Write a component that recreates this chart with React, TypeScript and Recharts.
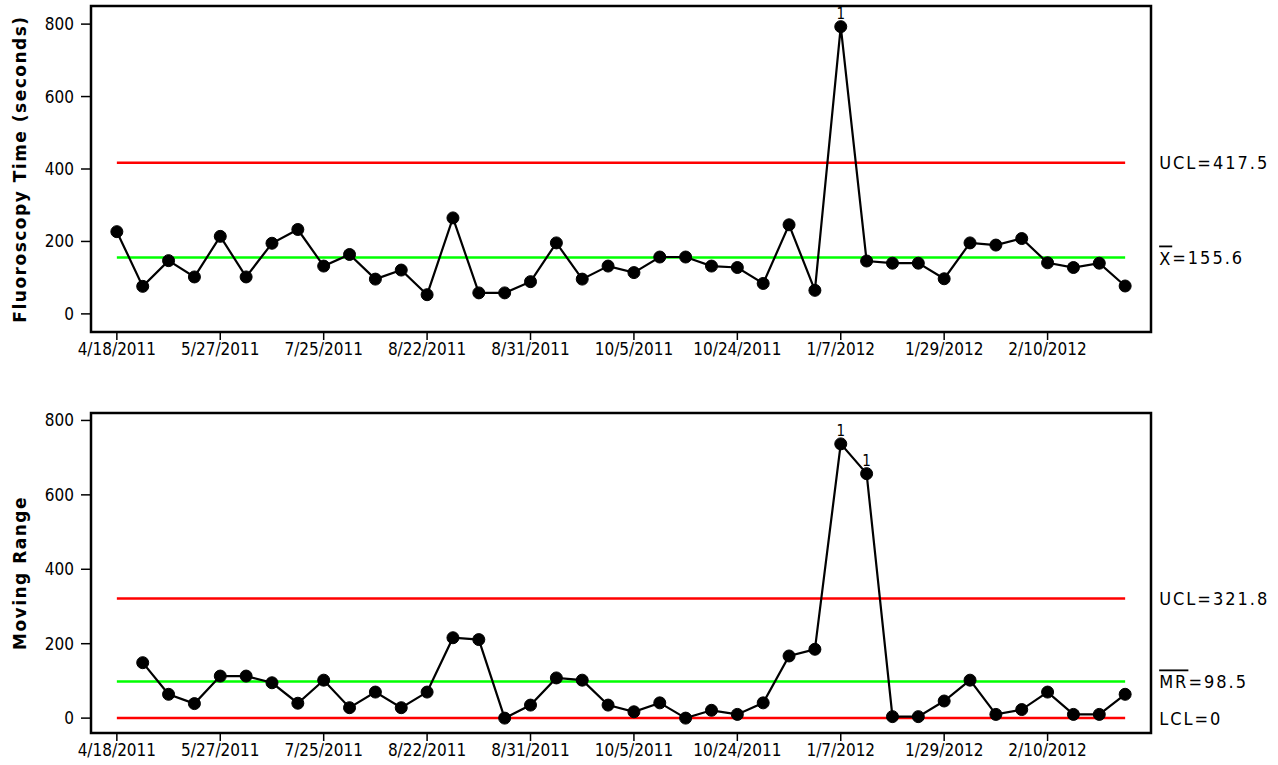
import { LineChart, Line, XAxis, YAxis, ReferenceLine, ReferenceArea, LabelList } from "recharts";

const FONT = "'DejaVu Sans Condensed', 'DejaVu Sans', sans-serif";
const TITLE_FONT = "'DejaVu Sans', Verdana, sans-serif";
const RED = "#ff0000";
const GREEN = "#00ff00";

// x axis: one observation per index, a date label every 4th
const TICK_IDX = [0, 4, 8, 12, 16, 20, 24, 28, 32, 36];
const TICK_DATES = [
  "4/18/2011", "5/27/2011", "7/25/2011", "8/22/2011", "8/31/2011",
  "10/5/2011", "10/24/2011", "1/7/2012", "1/29/2012", "2/10/2012",
];

// individual fluoroscopy times (seconds)
const FLUORO = [
  227, 76, 147, 102, 214, 102, 195, 233, 132, 164,
  96, 121, 53, 265, 58, 58, 89, 196, 96, 132,
  114, 157, 157, 132, 128, 84, 246, 65, 793, 146,
  140, 140, 97, 196, 190, 208, 141, 128, 140, 77,
];

// moving ranges (first observation has none)
const MOVING_RANGE = [
  null, 149, 64, 39, 113, 113, 95, 40, 102, 28,
  70, 28, 70, 216, 211, 0, 35, 108, 102, 35,
  17, 41, 0, 21, 10, 41, 167, 185, 737, 657,
  4, 4, 46, 102, 10, 23, 70, 10, 10, 64,
];

const FLUORO_FLAGS = [28];
const MR_FLAGS = [28, 29];

const I_UCL = 417.5;
const I_CL = 155.6;
const MR_UCL = 321.8;
const MR_CL = 98.5;
const MR_LCL = 0;

const Y_TICKS = [0, 200, 400, 600, 800];

const fmtDate = (v: number) => {
  const k = TICK_IDX.indexOf(v);
  return k >= 0 ? TICK_DATES[k] : "";
};

function AxisTitle({ viewBox, value }: any) {
  const cy = viewBox.y + viewBox.height / 2;
  const x = 20;
  return (
    <text
      x={x}
      y={cy}
      transform={`rotate(-90 ${x} ${cy})`}
      textAnchor="middle"
      dominantBaseline="central"
      fontFamily={TITLE_FONT}
      fontWeight="bold"
      fontSize={17}
      letterSpacing={1.5}
      fill="#000"
    >
      {value}
    </text>
  );
}

// bar: part of the label drawn with an overline (X-bar, MR-bar)
function RightLabel({ viewBox, bar, text }: any) {
  const x = viewBox.x + viewBox.width + 34;
  return (
    <text x={x} y={viewBox.y} dominantBaseline="central" fontFamily={FONT} fontSize={18} letterSpacing={2} fill="#000">
      {bar && <tspan style={{ textDecoration: "overline" }}>{bar}</tspan>}
      {text}
    </text>
  );
}

type Limit = { y: number; color: string; bar?: string; text: string };

function Panel({ values, flags, title, domain, limits, height, top, bottom }: {
  values: (number | null)[]; flags: number[]; title: string; domain: [number, number];
  limits: Limit[]; height: number; top: number; bottom: number;
}) {
  const data = values.map((v, i) => ({ i, v, flag: flags.includes(i) ? "1" : "" }));
  return (
    <LineChart width={1278} height={height} data={data} margin={{ top, right: 127, left: 0, bottom }}>
      <XAxis
        type="number"
        dataKey="i"
        domain={[-1, 40]}
        ticks={TICK_IDX}
        tickFormatter={fmtDate}
        height={30}
        axisLine={false}
        tickLine={{ stroke: "#000", strokeWidth: 1.5 }}
        tickSize={8}
        tickMargin={3}
        tick={{ fill: "#000", fontSize: 17, fontFamily: FONT }}
        interval={0}
      />
      <YAxis
        type="number"
        domain={domain}
        ticks={Y_TICKS}
        width={91}
        axisLine={false}
        tickLine={{ stroke: "#000", strokeWidth: 1.5 }}
        tickSize={10}
        tickMargin={7}
        tick={{ fill: "#000", fontSize: 17, fontFamily: FONT }}
        label={<AxisTitle value={title} />}
      />
      <ReferenceArea x1={-1} x2={40} y1={domain[0]} y2={domain[1]} fill="none" stroke="#000" strokeWidth={2.5} ifOverflow="visible" />
      {limits.map((l) => (
        <ReferenceLine
          key={l.text}
          segment={[{ x: 0, y: l.y }, { x: 39, y: l.y }]}
          stroke={l.color}
          strokeWidth={2.5}
          ifOverflow="visible"
          label={<RightLabel bar={l.bar} text={l.text} />}
        />
      ))}
      <Line
        type="linear"
        dataKey="v"
        stroke="#000"
        strokeWidth={2.2}
        dot={{ r: 6, fill: "#000", stroke: "#000", strokeWidth: 1 }}
        isAnimationActive={false}
      >
        <LabelList dataKey="flag" position="top" offset={8} fontSize={15} fill="#000" stroke="none" fontFamily={FONT} />
      </Line>
    </LineChart>
  );
}

export default function App() {
  return (
    <div style={{ position: "absolute", left: 0, top: 0, width: 1278, height: 765, background: "#fff" }}>
      <div style={{ position: "absolute", left: 0, top: 0 }}>
        <Panel
          values={FLUORO}
          flags={FLUORO_FLAGS}
          title="Fluoroscopy Time (seconds)"
          domain={[-50, 850]}
          limits={[
            { y: I_UCL, color: RED, text: "UCL=417.5" },
            { y: I_CL, color: GREEN, bar: "X", text: "=155.6" },
          ]}
          height={380}
          top={6}
          bottom={18}
        />
      </div>
      <div style={{ position: "absolute", left: 0, top: 380 }}>
        <Panel
          values={MOVING_RANGE}
          flags={MR_FLAGS}
          title="Moving Range"
          domain={[-40, 820]}
          limits={[
            { y: MR_UCL, color: RED, text: "UCL=321.8" },
            { y: MR_CL, color: GREEN, bar: "MR", text: "=98.5" },
            { y: MR_LCL, color: RED, text: "LCL=0" },
          ]}
          height={385}
          top={33}
          bottom={2}
        />
      </div>
    </div>
  );
}
